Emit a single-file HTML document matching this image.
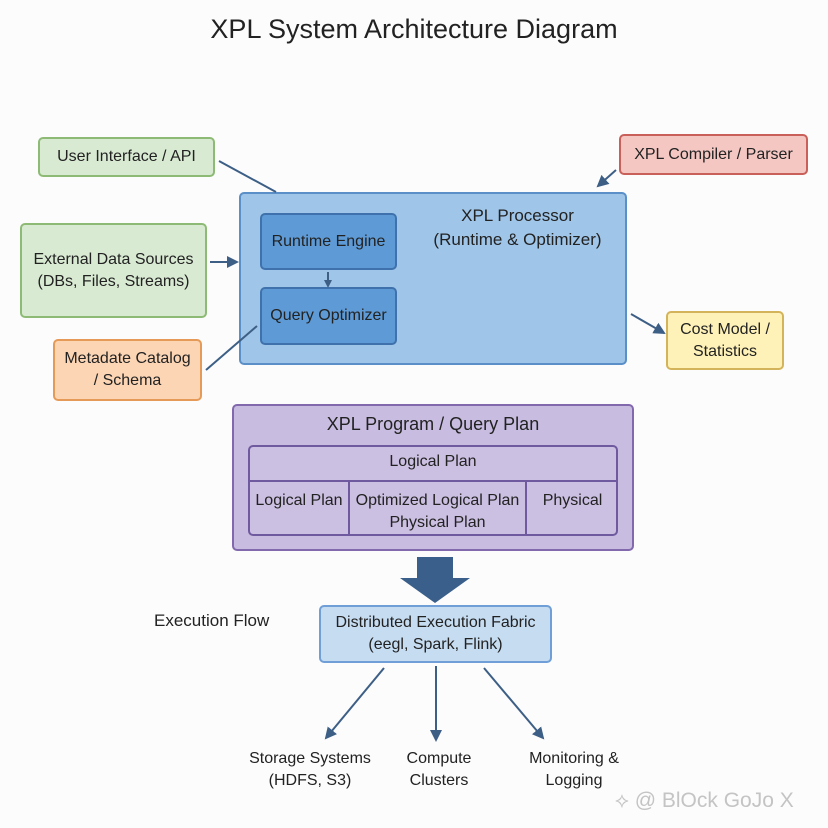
<!DOCTYPE html>
<html><head><meta charset="utf-8"><style>
body{margin:0;width:828px;height:828px;background:#fcfcfc;position:relative;overflow:hidden;font-family:"Liberation Sans",sans-serif;color:#222}
.b{position:absolute;box-sizing:border-box;border-radius:5px;display:flex;align-items:center;justify-content:center;text-align:center;font-size:16px;line-height:22px}
.t{position:absolute;font-size:16px;line-height:22px;text-align:center}
</style></head><body>
<div class="t" style="left:0;width:828px;top:12px;font-size:27px;line-height:34px">XPL System Architecture Diagram</div>
<div class="b" style="left:38px;top:137px;width:177px;height:40px;background:#d9ead3;border:2px solid #8dbb75">User Interface / API</div>
<div class="b" style="left:619px;top:134px;width:189px;height:41px;background:#f4c7c3;border:2px solid #c9605a">XPL Compiler / Parser</div>
<div class="b" style="left:239px;top:192px;width:388px;height:173px;background:#9fc5e8;border:2px solid #5a8fc8"></div>
<div class="t" style="left:410px;top:204px;width:215px;font-size:17px;line-height:24px">XPL Processor<br>(Runtime &amp; Optimizer)</div>
<div class="b" style="left:260px;top:213px;width:137px;height:57px;background:#5e9bd6;border:2px solid #3f72ad">Runtime Engine</div>
<div class="b" style="left:260px;top:287px;width:137px;height:58px;background:#5e9bd6;border:2px solid #3f72ad">Query Optimizer</div>
<div class="b" style="left:20px;top:223px;width:187px;height:95px;background:#d9ead3;border:2px solid #8dbb75">External Data Sources<br>(DBs, Files, Streams)</div>
<div class="b" style="left:53px;top:339px;width:149px;height:62px;background:#fcd5b4;border:2px solid #e59a58">Metadate Catalog<br>/ Schema</div>
<div class="b" style="left:666px;top:311px;width:118px;height:59px;background:#fff2b8;border:2px solid #d4b45a">Cost Model /<br>Statistics</div>
<div class="b" style="left:232px;top:404px;width:402px;height:147px;background:#c8bde0;border:2px solid #8269ad"></div>
<div class="t" style="left:232px;top:412px;width:402px;font-size:18px;line-height:24px">XPL Program / Query Plan</div>
<div class="b" style="left:248px;top:445px;width:370px;height:91px;border:2px solid #6f5aa0;background:#cbbfe2"></div>
<div style="position:absolute;left:249px;top:480px;width:368px;height:2px;background:#6f5aa0"></div>
<div style="position:absolute;left:348px;top:481px;width:2px;height:54px;background:#6f5aa0"></div>
<div style="position:absolute;left:525px;top:481px;width:2px;height:54px;background:#6f5aa0"></div>
<div class="t" style="left:248px;top:451px;width:370px">Logical Plan</div>
<div class="t" style="left:249px;top:490px;width:100px">Logical Plan</div>
<div class="t" style="left:350px;top:490px;width:175px">Optimized Logical Plan<br>Physical Plan</div>
<div class="t" style="left:527px;top:490px;width:91px">Physical</div>
<div class="b" style="left:319px;top:605px;width:233px;height:58px;background:#c6dcf1;border:2px solid #6f9fd6">Distributed Execution Fabric<br>(eegl, Spark, Flink)</div>
<div class="t" style="left:154px;top:610px;font-size:17px">Execution Flow</div>
<div class="t" style="left:240px;top:748px;width:140px">Storage Systems<br>(HDFS, S3)</div>
<div class="t" style="left:380px;top:748px;width:118px">Compute<br>Clusters</div>
<div class="t" style="left:504px;top:748px;width:140px">Monitoring &amp;<br>Logging</div>
<div class="t" style="left:615px;top:789px;width:210px;font-size:21px;line-height:24px;color:#c4c4c4;text-align:left">⟡ @ BlOck GoJo X</div>
<svg style="position:absolute;left:0;top:0" width="828" height="828">
<defs><marker id="a" markerWidth="8" markerHeight="8" refX="6" refY="4" orient="auto" markerUnits="userSpaceOnUse" viewBox="0 0 8 8"><path d="M0,0L8,4L0,8z" fill="#3d5f86"/></marker>
<marker id="m" markerWidth="12" markerHeight="12" refX="10" refY="6" orient="auto" markerUnits="userSpaceOnUse"><path d="M0,0L12,6L0,12z" fill="#3d5f86"/></marker></defs>
<g stroke="#3d5f86" stroke-width="2" fill="none">
<line x1="219" y1="161" x2="276" y2="192"/>
<line x1="616" y1="170" x2="598" y2="186" marker-end="url(#m)"/>
<line x1="210" y1="262" x2="237" y2="262" marker-end="url(#m)"/>
<line x1="328" y1="272" x2="328" y2="286" marker-end="url(#a)"/>
<line x1="206" y1="370" x2="257" y2="326"/>
<line x1="631" y1="314" x2="664" y2="333" marker-end="url(#m)"/>
<line x1="384" y1="668" x2="326" y2="738" marker-end="url(#m)"/>
<line x1="436" y1="666" x2="436" y2="740" marker-end="url(#m)"/>
<line x1="484" y1="668" x2="543" y2="738" marker-end="url(#m)"/>
</g>
<path d="M417,557H453V578H470L435,603L400,578H417Z" fill="#3a5f8a"/>
</svg>
</body></html>
